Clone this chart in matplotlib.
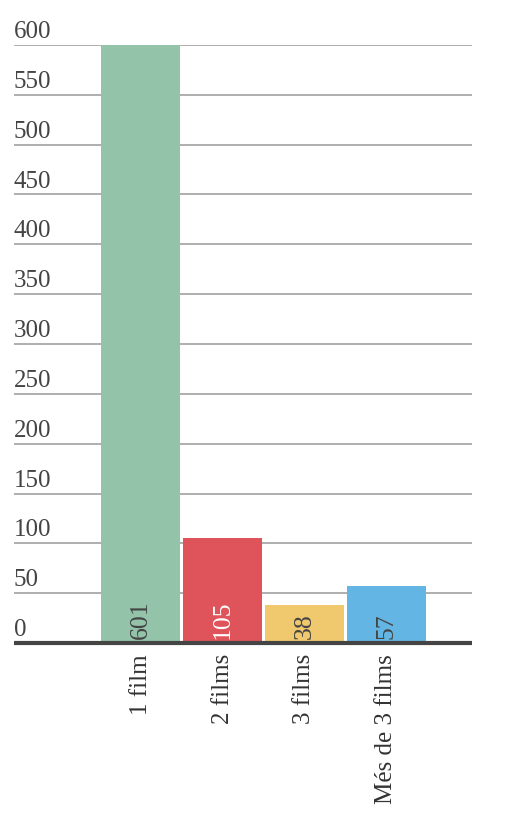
import matplotlib
matplotlib.use("Agg")
import matplotlib.pyplot as plt
from matplotlib import transforms

categories = ["1 film", "2 films", "3 films", "Més de 3 films"]
values = [601, 105, 38, 57]
colors = ["#93c3a9", "#de545a", "#f0c96f", "#63b6e3"]
label_colors = ["#444444", "#ffffff", "#444444", "#444444"]
yticks = [0, 50, 100, 150, 200, 250, 300, 350, 400, 450, 500, 550, 600]

plt.rcParams['font.family'] = ['Liberation Serif', 'DejaVu Serif']

fig = plt.figure(figsize=(5.06, 8.27), dpi=100)
ax = fig.add_axes([14/506, (827-643)/827, (472-14)/506, (643-45)/827])

x = list(range(len(categories)))
ax.bar(x, values, width=0.963, color=colors, zorder=3)
ax.set_xlim(-1.543, 4.043)
ax.set_ylim(0, 600)

for t in yticks[1:]:
    ax.axhline(t, color="#999999", lw=1.1, zorder=1)
ax.axhline(0, color="#444444", lw=3, zorder=4, clip_on=False, solid_capstyle='butt')

ytrans = transforms.blended_transform_factory(ax.transAxes, ax.transData) + \
    transforms.ScaledTranslation(0, 5/72, fig.dpi_scale_trans)
for t in yticks:
    ax.text(0, t, str(t), transform=ytrans, ha='left', va='baseline',
            fontsize=18, color="#444444", clip_on=False)

vtrans = ax.transData + transforms.ScaledTranslation(0, 3/72, fig.dpi_scale_trans)
for xi, v, lc in zip(x, values, label_colors):
    ax.text(xi, 0, str(v), transform=vtrans, rotation=90, ha='center', va='bottom',
            fontsize=18.5, color=lc, zorder=5)

ax.set_xticks(x)
ax.set_xticklabels(categories, rotation=90, fontsize=18, color="#333333")
ax.tick_params(axis='x', length=0, pad=8)
ax.set_yticks([])
for s in ax.spines.values():
    s.set_visible(False)

fig.savefig("out.png", dpi=100)
